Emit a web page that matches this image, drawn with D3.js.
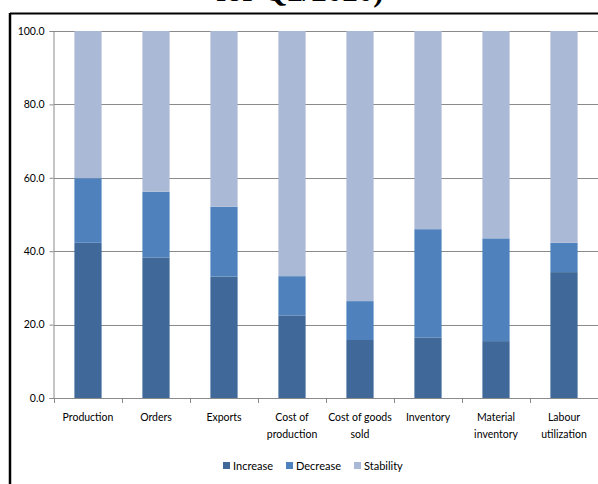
<!DOCTYPE html>
<html>
<head>
<meta charset="utf-8">
<script src="https://cdn.jsdelivr.net/npm/d3@7"></script>
<style>
  html, body { margin: 0; padding: 0; background: #fff; }
  svg { display: block; }
  text { font-family: Lato, "Noto Sans", sans-serif; fill: #000; }
</style>
</head>
<body>
<svg id="chart" width="598" height="484"></svg>
<script>
// Survey indicators, share of firms (%)
const categories = [
  "Production", "Orders", "Exports", "Cost of\nproduction", "Cost of goods\nsold",
  "Inventory", "Material\ninventory", "Labour\nutilization"
];
const increase = [42.3, 38.3, 33.1, 22.5, 15.8, 16.5, 15.5, 34.3];
const decrease = [17.6, 17.9, 19.0, 10.7, 10.6, 29.5, 28.0, 8.0];
const stability = increase.map((v, i) => +(100 - v - decrease[i]).toFixed(1));
const seriesNames = ["Increase", "Decrease", "Stability"];
const seriesColors = ["#406999", "#4F81BD", "#AAB9D6"];
const yTicks = [0, 20, 40, 60, 80, 100];

const svg = d3.select("#chart");
const W = 598, H = 484;
const plot = { left: 54, right: 598, top: 31, bottom: 398 };

// Heading line above the frame (only its lower part is in view)
svg.append("text")
  .attr("x", 300).attr("y", 1)
  .attr("text-anchor", "middle")
  .style("font-family", "'Liberation Serif', 'Times New Roman', serif")
  .style("font-weight", "bold")
  .style("font-size", "31px")
  .text("for Q2/2020)");

// Frame
svg.append("line").attr("x1", 10).attr("x2", W).attr("y1", 13.5).attr("y2", 13.5)
  .attr("stroke", "#000").attr("stroke-width", 2);
svg.append("line").attr("x1", 10).attr("x2", 10).attr("y1", 13).attr("y2", H)
  .attr("stroke", "#000").attr("stroke-width", 2.5);

const x = d3.scaleBand().domain(categories).range([plot.left, plot.right])
  .paddingInner(0.6).paddingOuter(0.3);
const y = d3.scaleLinear().domain([0, 100]).range([plot.bottom, plot.top]);

// Gridlines
svg.append("g").selectAll("line").data(yTicks.filter(d => d > 0)).join("line")
  .attr("x1", plot.left).attr("x2", plot.right)
  .attr("y1", d => Math.round(y(d)) + 0.5).attr("y2", d => Math.round(y(d)) + 0.5)
  .attr("stroke", "#8a8a8a").attr("stroke-width", 1);

// Stacked bars
const rows = categories.map((c, i) => ({ cat: c, Increase: increase[i], Decrease: decrease[i], Stability: stability[i] }));
const stack = d3.stack().keys(seriesNames)(rows);
svg.append("g").selectAll("g").data(stack).join("g")
  .attr("fill", (d, i) => seriesColors[i])
  .selectAll("rect").data(d => d).join("rect")
  .attr("x", d => x(d.data.cat))
  .attr("width", x.bandwidth())
  .attr("y", d => y(d[1]))
  .attr("height", d => y(d[0]) - y(d[1]));

// Y axis
const yAxis = svg.append("g").attr("transform", `translate(${plot.left - 0.5},0)`)
  .call(d3.axisLeft(y).tickValues(yTicks).tickFormat(d3.format(".1f")).tickSize(4).tickPadding(5));
yAxis.select(".domain").attr("stroke", "#8a8a8a");
yAxis.selectAll(".tick line").attr("stroke", "#8a8a8a");
yAxis.selectAll(".tick text").style("font-size", "10.5px")
  .style("font-family", "Lato, sans-serif");

// X axis line with ticks on category boundaries
const xg = svg.append("g");
xg.append("line").attr("x1", plot.left - 4).attr("x2", plot.right)
  .attr("y1", plot.bottom + 0.5).attr("y2", plot.bottom + 0.5)
  .attr("stroke", "#8a8a8a");
const bounds = d3.range(categories.length + 1).map(i => x.range()[0] + i * x.step());
xg.selectAll("line.tk").data(bounds).join("line").attr("class", "tk")
  .attr("x1", d => Math.round(d) + 0.5).attr("x2", d => Math.round(d) + 0.5)
  .attr("y1", plot.bottom).attr("y2", plot.bottom + 5)
  .attr("stroke", "#8a8a8a");

// Category labels (two lines where needed)
const lbl = xg.selectAll("text.cat").data(categories).join("text").attr("class", "cat")
  .attr("text-anchor", "middle")
  .attr("transform", d => `translate(${x(d) + x.bandwidth() / 2},${plot.bottom + 23})`)
  .style("font-size", "10.5px");
lbl.selectAll("tspan").data(d => d.split("\n")).join("tspan")
  .attr("x", 0).attr("dy", (d, i) => i === 0 ? 0 : 16.5)
  .text(d => d);

// Legend
const legendX = [223, 286, 354];
const lg = svg.append("g").selectAll("g").data(seriesNames).join("g")
  .attr("transform", (d, i) => `translate(${legendX[i]},462)`);
lg.append("rect").attr("width", 7).attr("height", 7).attr("fill", (d, i) => seriesColors[i]);
lg.append("text").attr("x", 10).attr("y", 8).style("font-size", "11px").text(d => d);
</script>
</body>
</html>
